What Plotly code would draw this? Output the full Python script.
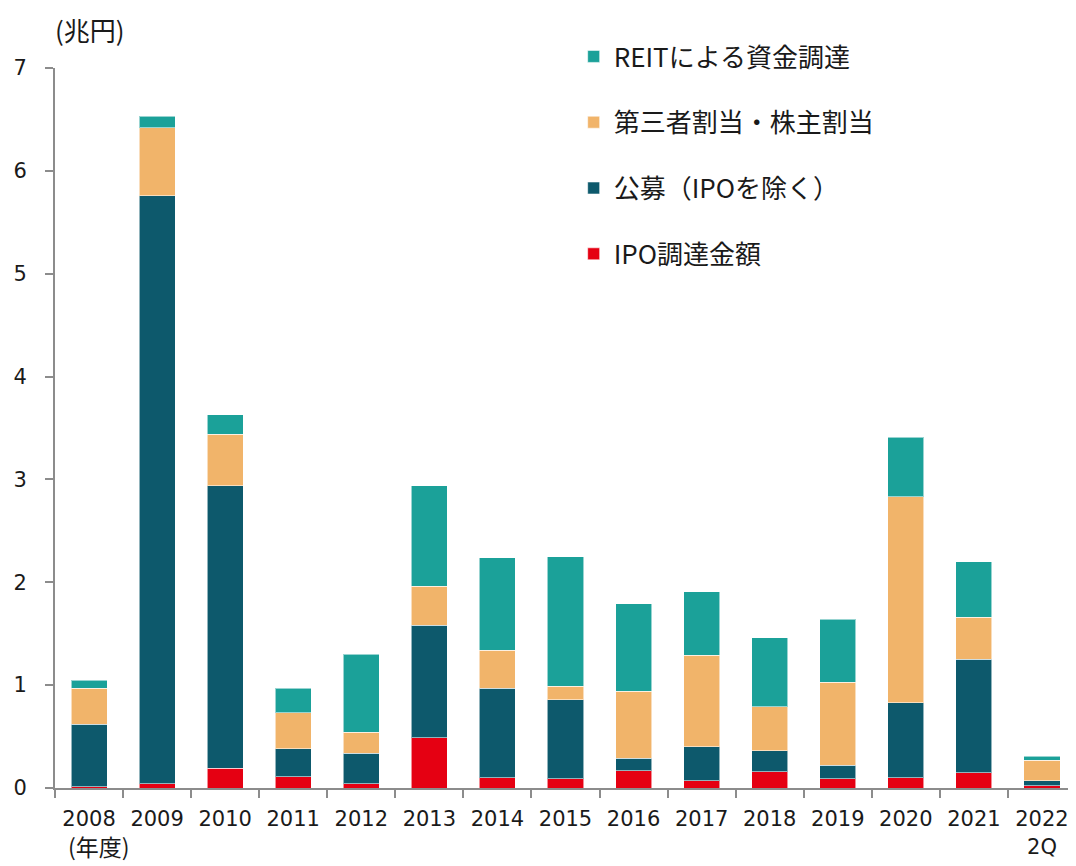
import plotly.graph_objects as go

years = ["2008", "2009", "2010", "2011", "2012", "2013", "2014", "2015",
         "2016", "2017", "2018", "2019", "2020", "2021", "2022<br>2Q"]

ipo = [0.01, 0.04, 0.19, 0.11, 0.04, 0.49, 0.10, 0.09, 0.17, 0.07, 0.16, 0.09, 0.10, 0.15, 0.02]
public_offering = [0.61, 5.72, 2.75, 0.27, 0.30, 1.09, 0.87, 0.77, 0.12, 0.33, 0.20, 0.13, 0.73, 1.10, 0.05]
third_party = [0.35, 0.66, 0.50, 0.35, 0.20, 0.38, 0.37, 0.13, 0.65, 0.89, 0.43, 0.81, 2.00, 0.41, 0.20]
reit = [0.08, 0.11, 0.19, 0.24, 0.76, 0.98, 0.90, 1.26, 0.85, 0.62, 0.67, 0.61, 0.58, 0.54, 0.04]

series = [
    ("IPO調達金額", ipo, "#E50012", 4),
    ("公募（IPOを除く）", public_offering, "#0D596C", 3),
    ("第三者割当・株主割当", third_party, "#F1B46A", 2),
    ("REITによる資金調達", reit, "#1BA199", 1),
]

FONT = "Verdana, DejaVu Sans, Noto Sans CJK JP, sans-serif"
CJK = "Noto Sans CJK JP, sans-serif"

fig = go.Figure()
for i, (name, vals, color, rank) in enumerate(series):
    fig.add_trace(go.Bar(
        x=years, y=vals, name=name, legendgroup=f"g{i}", legendrank=rank,
        marker=dict(color=color, line=dict(color="rgba(255,255,255,0.55)", width=1)),
    ))

# The page body adds an 8px margin, so the figure is 8px smaller than the window.
fig.update_layout(
    width=1068, height=858,
    margin=dict(l=47, r=0, t=60, b=78, autoexpand=False),
    barmode="stack",
    bargap=0.47,
    plot_bgcolor="white",
    paper_bgcolor="white",
    font=dict(family=FONT, size=20, color="#1a1a1a"),
    showlegend=True,
    legend=dict(
        x=0.508, y=1.0486, xanchor="left", yanchor="top",
        traceorder="grouped", tracegroupgap=29,
        font=dict(family=CJK, size=26, color="#1a1a1a"),
        bgcolor="rgba(0,0,0,0)",
    ),
    xaxis=dict(
        type="category",
        showline=True, linecolor="#8c8c8c", linewidth=2,
        ticks="outside", tickson="boundaries", ticklen=8, tickwidth=2, tickcolor="#8c8c8c",
        showgrid=False, ticklabelstandoff=11,
        tickfont=dict(family=FONT, size=21, color="#1a1a1a"),
    ),
    yaxis=dict(
        range=[0, 7], dtick=1, tick0=0,
        showline=True, linecolor="#8c8c8c", linewidth=2,
        ticks="outside", ticklen=8, tickwidth=2, tickcolor="#8c8c8c",
        showgrid=False, zeroline=False, ticklabelstandoff=14,
        tickfont=dict(family=FONT, size=21, color="#1a1a1a"),
    ),
    annotations=[
        dict(text="(兆円)", xref="paper", yref="paper", x=0.034, y=1.082,
             xanchor="center", yanchor="top", showarrow=False,
             font=dict(family=CJK, size=26, color="#1a1a1a")),
        dict(text="(年度)", xref="paper", yref="paper", x=0.043, y=-0.1075,
             xanchor="center", yanchor="bottom", showarrow=False,
             font=dict(family=CJK, size=23, color="#1a1a1a")),
    ],
)

fig.write_html("out.html")
